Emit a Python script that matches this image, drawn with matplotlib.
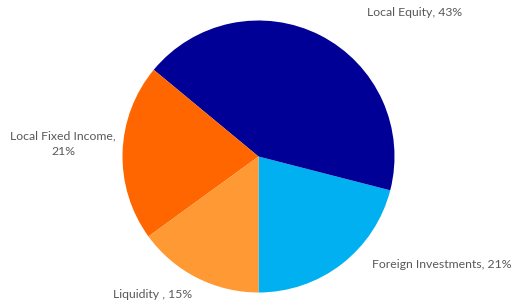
import matplotlib
matplotlib.use("Agg")
import matplotlib.pyplot as plt

categories = ["Foreign Investments", "Local Equity", "Local Fixed Income", "Liquidity "]
values = [21, 43, 21, 15]
colors = ["#00B0F0", "#000096", "#FF6600", "#FF9933"]
label_texts = ["Foreign Investments, 21%", "Local Equity, 43%", "Local Fixed Income,\n21%", "Liquidity , 15%"]

W, H = 513, 304
fig = plt.figure(figsize=(W / 100, H / 100), dpi=100)
cx, cy, r = 258.5, 156.5, 136
ax = fig.add_axes([(cx - r) / W, (H - cy - r) / H, 2 * r / W, 2 * r / H])
ax.pie(values, colors=colors, startangle=-90, counterclock=True, radius=1,
       wedgeprops=dict(linewidth=0))
ax.set_xlim(-1, 1)
ax.set_ylim(-1, 1)
ax.set_aspect("auto")
ax.axis("off")

# label positions in pixel coords (center)
label_pos = [(442, 264), (415, 13), (63, 143.5), (153, 294)]
for txt, (px, py) in zip(label_texts, label_pos):
    fig.text(px / W, 1 - py / H, txt, ha="center", va="center", fontsize=8.8,
             color="#595959", family="Lato", linespacing=1.5)

fig.savefig("out.png", dpi=100)
